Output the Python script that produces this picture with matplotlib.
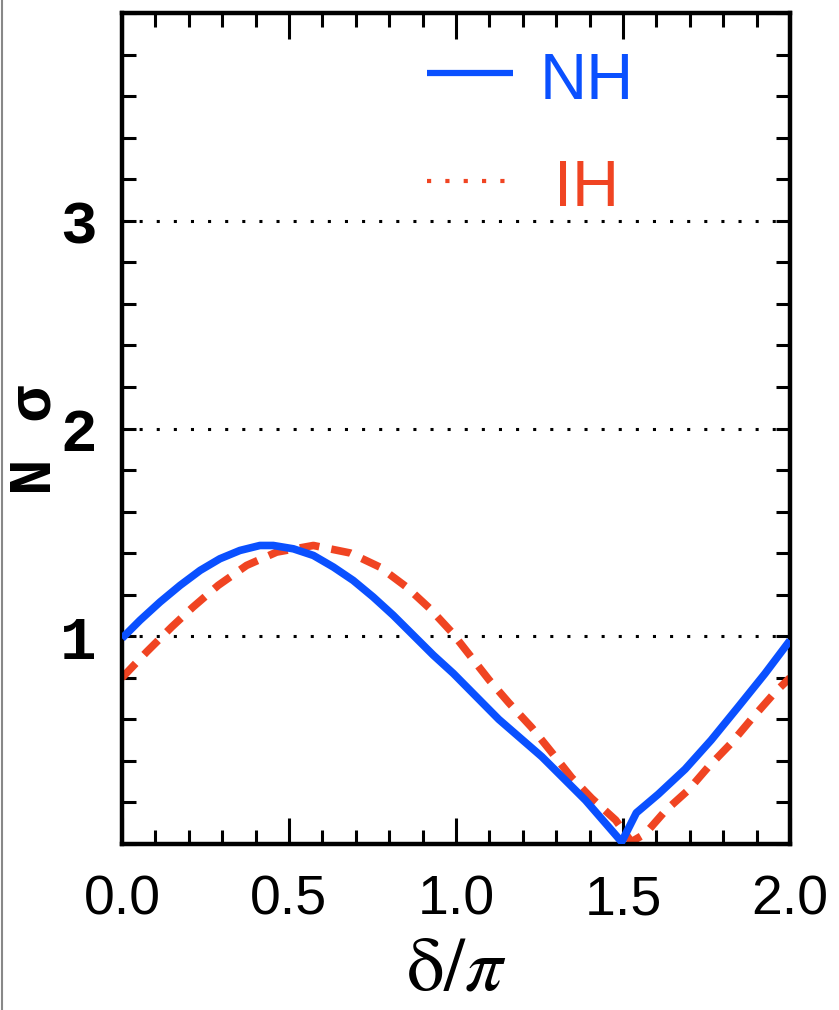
import matplotlib
matplotlib.use('Agg')
import matplotlib.pyplot as plt
from matplotlib.lines import Line2D
from matplotlib.ticker import MultipleLocator

# curves (delta/pi vs N sigma)
nh_x = [0.0, 0.054, 0.114, 0.174, 0.234, 0.293, 0.353, 0.413, 0.453, 0.513, 0.573,
        0.633, 0.692, 0.752, 0.812, 0.872, 0.932, 0.992, 1.128, 1.257, 1.388, 1.496,
        1.54, 1.606, 1.686, 1.764, 1.845, 1.925, 2.0]
nh_y = [0.99, 1.077, 1.165, 1.245, 1.317, 1.373, 1.413, 1.437, 1.437, 1.421, 1.389,
        1.333, 1.269, 1.189, 1.101, 1.005, 0.909, 0.821, 0.60, 0.42, 0.21, 0.01,
        0.15, 0.24, 0.36, 0.50, 0.66, 0.82, 0.98]

ih_x = [0.0, 0.074, 0.149, 0.213, 0.288, 0.373, 0.463, 0.573, 0.683, 0.772, 0.852,
        0.922, 0.987, 1.099, 1.158, 1.227, 1.287, 1.346, 1.406, 1.478, 1.525, 1.567,
        1.627, 1.696, 1.755, 1.824, 1.884, 1.955, 2.0]
ih_y = [0.80, 0.925, 1.045, 1.141, 1.245, 1.341, 1.405, 1.437, 1.401, 1.333, 1.237,
        1.133, 1.02, 0.79, 0.68, 0.56, 0.44, 0.32, 0.22, 0.115, 0.01, 0.05,
        0.16, 0.26, 0.37, 0.485, 0.60, 0.73, 0.80]

x_ticks = [0.0, 0.5, 1.0, 1.5, 2.0]
y_ticks = [1, 2, 3]

blue = '#0a50ff'
red = '#f04422'

plt.rcParams['mathtext.fontset'] = 'stix'

fig = plt.figure(figsize=(8.39, 10.10), dpi=100)
ax = fig.add_axes([0.1454, 0.1644, 0.7962, 0.8226])

for yv in y_ticks:
    ax.axhline(yv, color='black', lw=2.2, dashes=(1, 4.6), zorder=1)

ax.plot(nh_x, nh_y, color=blue, lw=5.5, solid_capstyle='butt', solid_joinstyle='round', zorder=3)
ax.plot(ih_x, ih_y, color=red, lw=5.5, dashes=(2.6, 1.6), zorder=2)

ax.set_xlim(0, 2)
ax.set_ylim(0, 4)
ax.set_xticks(x_ticks)
ax.set_xticklabels(['%.1f' % v for v in x_ticks])
ax.set_yticks(y_ticks)
ax.set_yticklabels([str(v) for v in y_ticks])
ax.xaxis.set_minor_locator(MultipleLocator(0.1))
ax.yaxis.set_minor_locator(MultipleLocator(0.2))

ax.tick_params(which='both', direction='in', top=True, right=True, width=2.2, color='black')
ax.tick_params(axis='x', which='major', length=19, pad=22)
ax.tick_params(axis='x', which='minor', length=10)
ax.tick_params(axis='y', which='both', length=10, pad=18)

for lab in ax.get_xticklabels():
    lab.set_family('Liberation Sans')
    lab.set_fontsize(40)
for lab in ax.get_yticklabels():
    lab.set_family('Liberation Mono')
    lab.set_fontweight('bold')
    lab.set_fontsize(44)

for sp in ax.spines.values():
    sp.set_linewidth(3.2)

ax.set_xlabel(r'$\mathrm{\delta}/\pi$', fontsize=54, labelpad=4)
ax.set_ylabel('N σ', family='Liberation Mono', fontweight='bold', fontsize=44)
ax.yaxis.set_label_coords(-0.088, 0.486)

# legend drawn by hand: solid key for NH, dotted key for IH, centred labels
ax.plot([0.4566, 0.585], [0.928, 0.928], transform=ax.transAxes, color=blue, lw=4.5,
        solid_capstyle='butt')
ax.text(0.695, 0.897, 'NH', transform=ax.transAxes, color=blue, fontsize=47,
        family='Liberation Sans', ha='center', va='baseline')
ax.plot([0.4566, 0.58], [0.798, 0.798], transform=ax.transAxes, color=red, lw=3,
        dashes=(1, 3.4))
ax.text(0.695, 0.768, 'IH', transform=ax.transAxes, color=red, fontsize=47,
        family='Liberation Sans', ha='center', va='baseline')

fig.add_artist(Line2D([0.002, 0.002], [0, 1], transform=fig.transFigure, color='#888888', lw=1.5))

fig.savefig('out.png', dpi=100)
